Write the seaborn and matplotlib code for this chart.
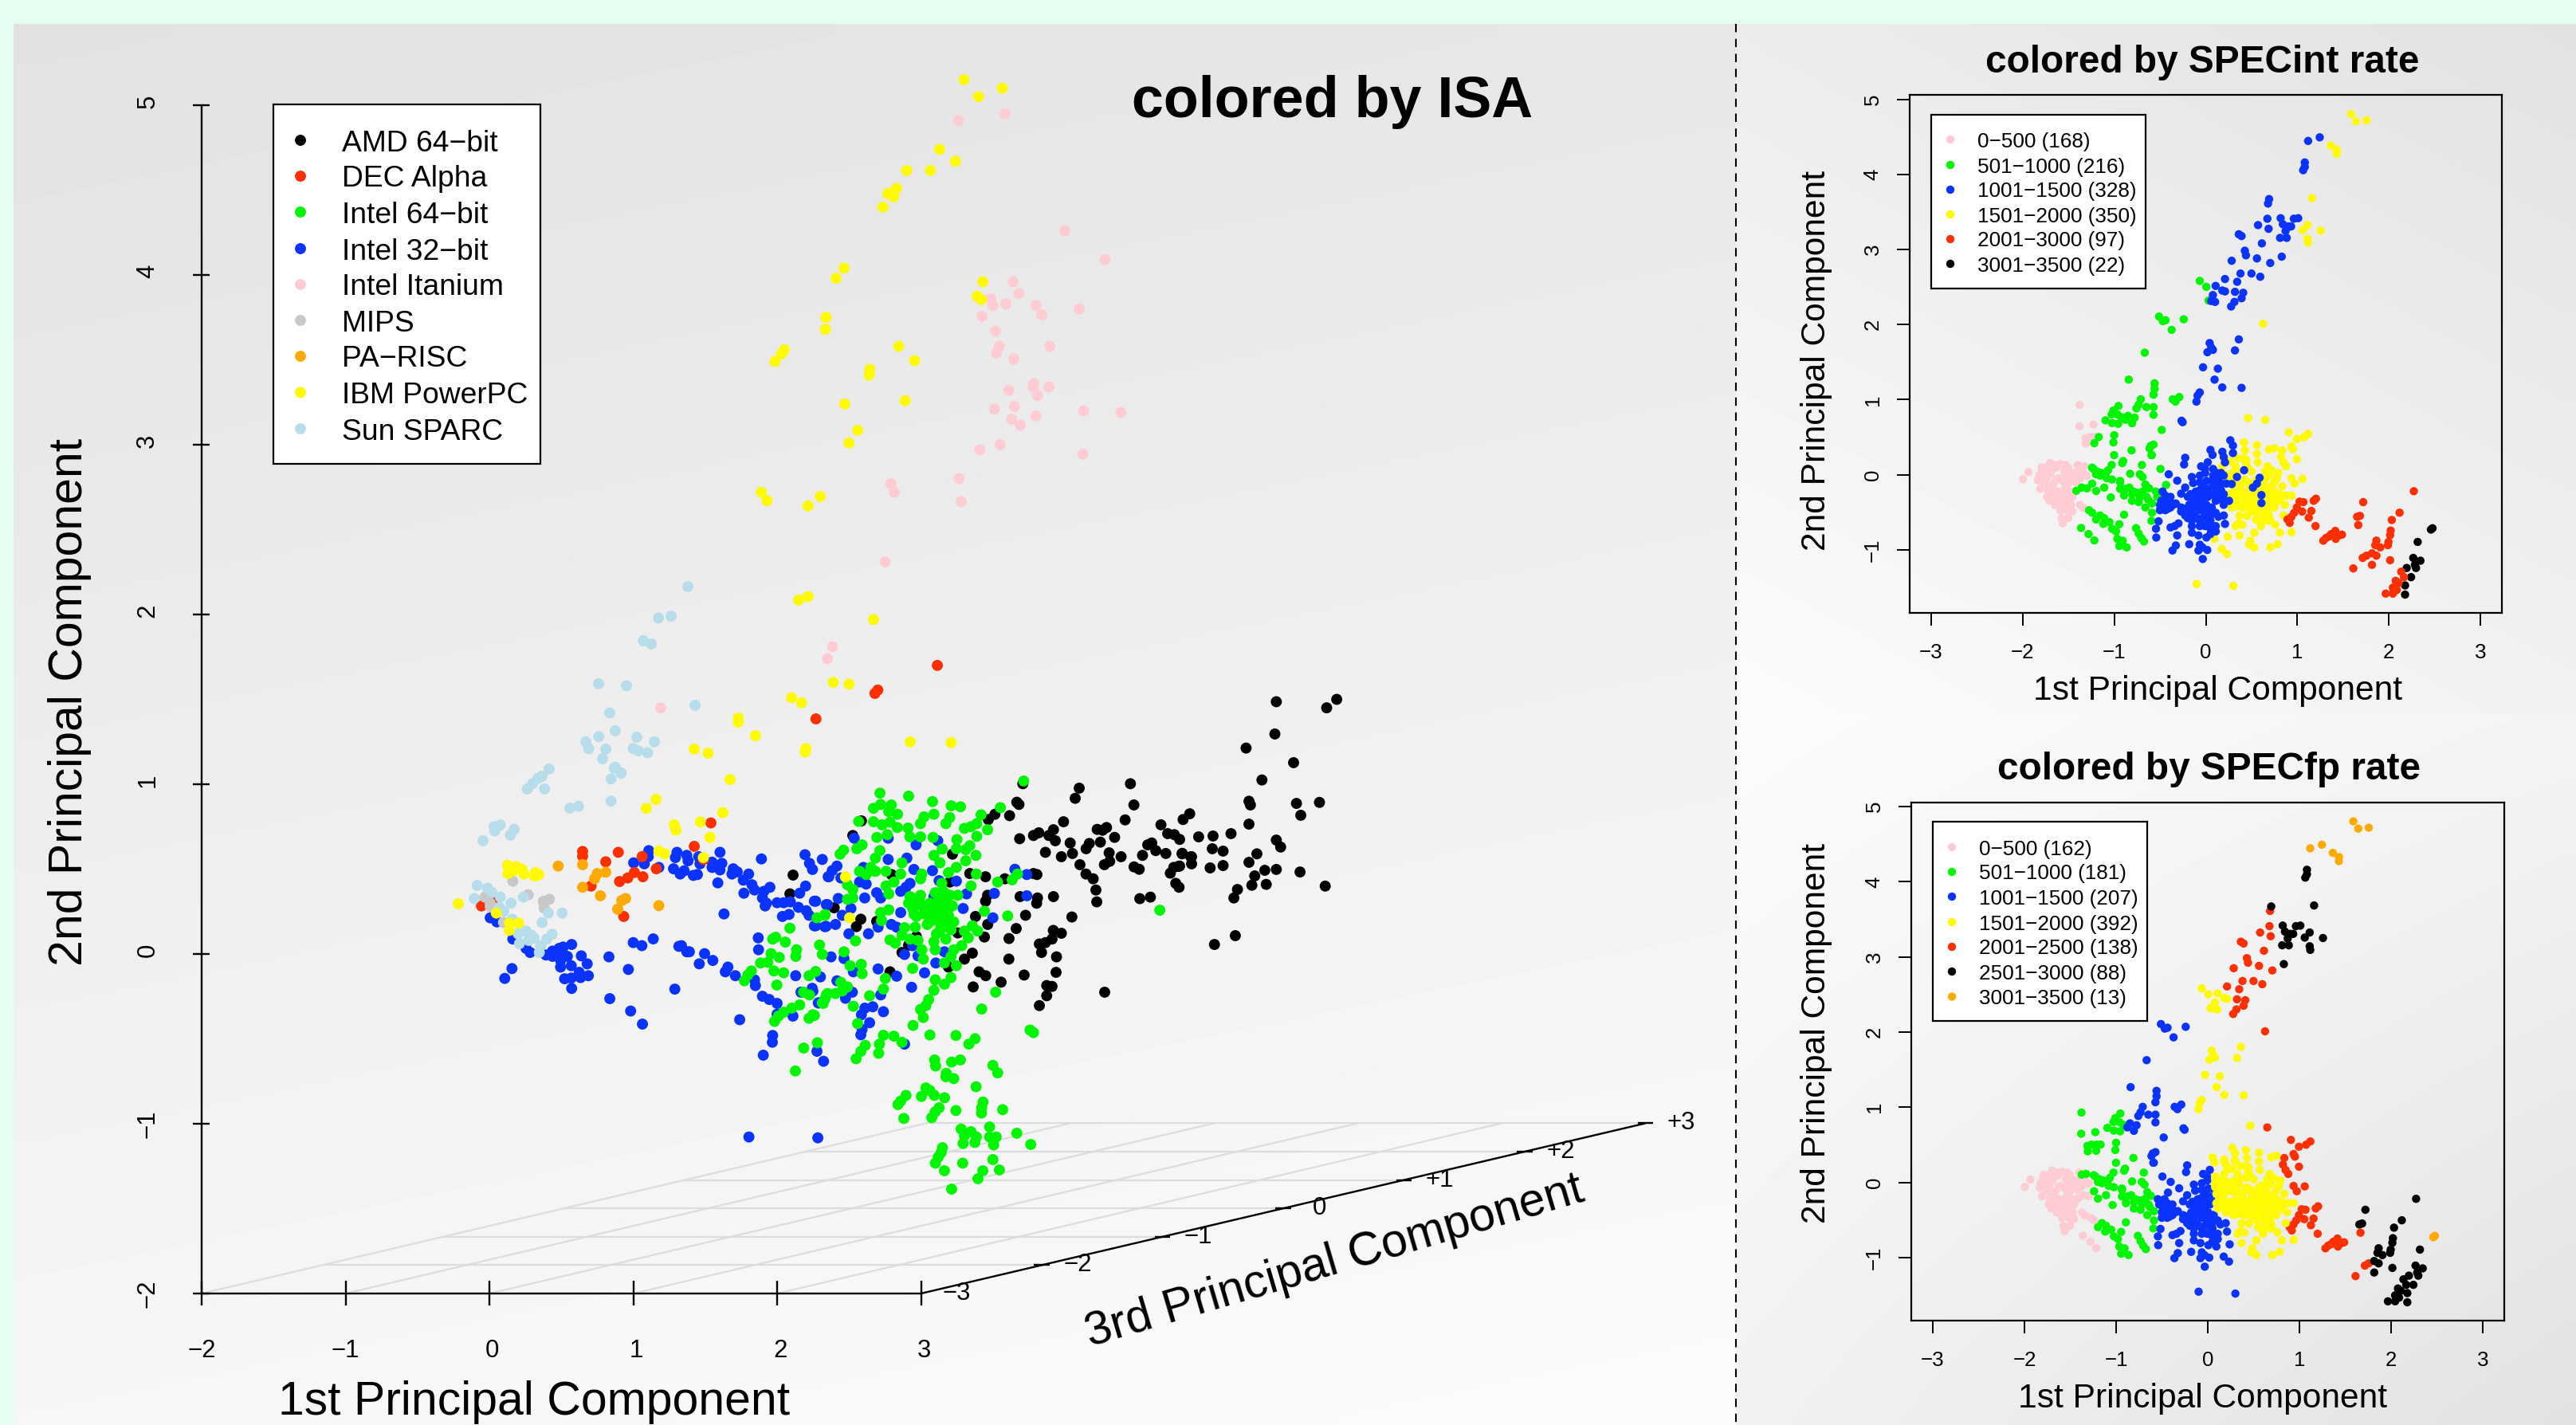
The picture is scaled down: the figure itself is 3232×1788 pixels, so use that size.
import numpy as np
import pandas as pd
import matplotlib
matplotlib.use('Agg')
import matplotlib.pyplot as plt
from matplotlib.patches import Rectangle
import seaborn as sns

# ── 3D panel, projected values ──
amd_64 = [(2.111,.465),(2.089,.354),(3.708,1.003),(4.1,.977),(4.072,.917),(4.456,1.003),(4.48,.878),(3.666,.894),(3.681,.881),(3.616,.815),
    (3.514,.823),(3.468,.792),(3.991,.779),(4.419,.79),(4.868,.826),(4.822,.792),(4.668,.761),(3.686,.679),(3.782,.698),(3.819,.714),
    (3.921,.732),(3.889,.698),(3.934,.667),(4.225,.734),(4.262,.729),(4.29,.745),(4.346,.687),(4.037,.654),(4.17,.651),(4.247,.659),
    (4.148,.62),(3.865,.599),(3.976,.573),(4.053,.592),(4.308,.596),(4.391,.573),(4.54,.581),(4.312,.546),(4.275,.526),(4.105,.526),
    (4.715,.709),(4.761,.703),(4.798,.675),(4.576,.643),(4.604,.654),(4.632,.609),(4.702,.592),(4.816,.593),(4.881,.573),(4.881,.531),
    (4.798,.518),(4.757,.51),(4.733,.476),(4.481,.513),(4.517,.499),(4.771,.416),(4.794,.393),(4.147,.471),(4.197,.443),(4.216,.377),
    (4.222,.307),(4.521,.326),(4.595,.335),(3.806,.468),(3.782,.474),(3.583,.443),(3.449,.455),(3.339,.474),(3.921,.338),(3.689,.338),
    (3.81,.33),(3.804,.299),(3.463,.346),(3.449,.311),(3.727,.228),(4.049,.218),(3.379,.221),(3.464,.174),(3.662,.15),(3.612,.091),
    (3.92,.139),(3.976,.122),(3.911,.088),(3.823,.059),(3.865,.067),(3.838,.009),(3.441,.1),(3.357,.005),(3.302,-.03),(3.611,-.03),
    (3.942,-.017),(3.939,-.108),(3.717,-.124),(3.404,-.105),(3.45,-.128),(3.557,-.166),(3.363,-.194),(3.874,-.186),(3.911,-.191),
    (3.874,-.246),(3.823,-.304),(4.277,-.225),(2.526,.698),(2.586,.784),(3.219,.588),(2.795,.468),(3.201,.424),(2.397,.272),(2.582,.205),
    (2.551,.161),(2.692,.192),(2.968,.103),(3.256,.124),(2.914,.052),(2.868,.009),(2.785,-.105),(3.191,-.077),(5.47,1.486),(5.89,1.5),
    (5.82,1.45),(5.46,1.296),(5.26,1.213),(5.59,1.127),(5.37,1.025),(5.61,.887),(5.77,.893),(5.64,.817),(5.28,.9),(5.29,.878),(5.28,.765),
    (5.155,.709),(5.47,.671),(5.5,.63),(5.335,.59),(5.28,.54),(5.39,.493),(5.47,.498),(5.635,.483),(5.03,.695),(4.93,.69),(5.1,.606),
    (5.025,.62),(4.875,.573),(4.815,.59),(4.79,.516),(5.01,.507),(5.1,.521),(5.81,.4),(5.32,.46),(5.4,.41),(5.3,.405),(5.2,.38),(5.175,.33),
    (5.185,.108),(5.04,.056)]
dec_alpha = [(1.54,.772),(1.424,.634),(.648,.604),(.648,.576),(.896,.599),(.809,.543),(1.062,.574),(1.16,.502),(1.067,.455),(1.008,.48),
    (.962,.448),(.905,.427),(.707,.4),(1.488,.557),(-.055,.283),(.024,.315),(.934,.221),(3.114,1.7),(2.7,1.555),(2.68,1.535),(2.27,1.385)]
intel_64 = [(2.089,.152),(1.99,.099),(1.969,.088),(2.057,.07),(2.135,.025),(2.13,-.014),(1.958,.002),(2.015,-.02),(2.295,.053),(2.314,-.002),
    (1.885,-.053),(1.935,-.049),(1.978,-.1),(2.046,-.111),(1.998,-.183),(1.821,-.1),(1.796,-.124),(1.773,-.158),(2.222,-.128),(2.268,-.103),
    (2.184,-.225),(2.225,-.241),(2.277,.213),(2.332,.228),(2.157,-.3),(2.102,-.319),(2.046,-.343),(2.009,-.366),(1.982,-.397),(2.249,-.358),
    (2.222,-.379),(2.28,-.523),(2.185,-.554),(2.127,-.689),(2.314,-.288),(2.342,-.241),(3.714,1.019),(3.552,.862),(2.715,.948),(2.914,.93),
    (3.08,.898),(2.72,.881),(2.67,.858),(2.794,.878),(2.776,.839),(2.837,.823),(3.21,.873),(3.275,.867),(3.09,.823),(3.021,.808),(2.997,.768),
    (2.567,.781),(2.67,.779),(2.729,.761),(2.785,.776),(2.835,.745),(2.91,.742),(3.2,.804),(3.173,.768),(3.418,.82),(3.388,.768),(3.348,.75),
    (3.302,.74),(3.463,.732),(3.388,.693),(3.25,.674),(2.997,.69),(2.923,.69),(3.084,.687),(2.693,.687),(2.766,.703),(2.591,.643),(2.554,.62),
    (2.462,.612),(2.438,.588),(3.246,.62),(3.339,.638),(3.311,.615),(3.148,.618),(3.09,.581),(3.132,.537),(3.382,.581),(2.715,.609),(2.683,.565),
    (2.868,.537),(3.311,.549),(3.246,.51),(3.191,.479),(2.573,.487),(2.619,.468),(2.652,.51),(2.683,.487),(2.757,.487),(2.859,.471),(3.006,.471),
    (2.997,.443),(3.385,.471),(3.348,.401),(3.671,.471),(3.533,.424),(3.634,.437),(3.145,.416),(2.489,.408),(2.526,.38),(2.526,.33),(2.489,.322),
    (2.812,.424),(2.757,.401),(2.776,.354),(2.924,.338),(2.997,.346),(2.969,.299),(3.099,.361),(3.154,.369),(3.2,.346),(3.256,.346),(2.942,.268),
    (3.016,.275),(3.044,.252),(3.117,.299),(3.173,.315),(3.219,.283),(3.135,.236),(3.191,.228),(3.228,.189),(2.969,.221),(3.09,.221),(2.72,.244),
    (2.776,.26),(2.726,.197),(2.333,.232),(3.357,.166),(3.394,.135),(3.302,.135),(3.441,.252),(3.603,.224),(2.886,.155),(2.96,.158),(3.044,.174),
    (3.135,.174),(3.191,.158),(3.108,.119),(3.173,.088),(2.868,.111),(2.923,.088),(2.979,.08),(2.785,.083),(2.822,.064),(2.545,.077),(3.09,.072),
    (3.099,.025),(3.006,.025),(3.329,.095),(3.283,.049),(3.228,.025),(3.209,-.014),(3.016,-.03),(3.163,-.053),(3.246,-.069),(2.942,-.085),
    (2.465,.013),(2.507,-.069),(2.585,-.061),(2.591,-.116),(2.752,-.144),(2.739,-.207),(2.643,-.246),(2.443,-.167),(2.489,-.194),(2.453,-.218),
    (2.406,-.233),(2.351,-.233),(2.333,-.264),(2.32,-.291),(2.53,-.308),(2.259,-.362),(2.56,-.41),(3.099,-.152),(3.209,-.139),(3.163,-.178),
    (3.09,-.214),(3.053,-.269),(3.034,-.304),(2.997,-.327),(3.016,-.374),(2.945,-.421),(3.519,-.225),(3.422,-.324),(3.062,-.477),(3.243,-.48),
    (3.758,-.448),(3.782,-.463),(2.739,-.479),(2.812,-.484),(2.868,-.52),(3.376,-.499),(3.333,-.531),(2.711,-.531),(2.706,-.585),(2.613,-.538),
    (2.582,-.574),(2.549,-.617),(4.66,.258),(3.095,-.624),(3.102,-.66),(3.213,-.637),(3.274,-.624),(3.5,-.656),(3.533,-.7),(3.176,-.703),
    (3.173,-.723),(3.228,-.734),(3.383,-.782),(3.034,-.789),(3.062,-.804),(3.093,-.833),(3.003,-.839),(3.164,-.847),(2.896,-.833),(2.859,-.867),
    (2.84,-.887),(3.431,-.872),(3.422,-.906),(3.421,-.937),(3.568,-.917),(3.243,-.922),(3.126,-.906),(3.099,-.93),(3.075,-.964),(2.881,-.969),
    (3.477,-1.019),(3.666,-1.056),(3.279,-1.031),(3.348,-1.047),(3.385,-1.078),(3.302,-1.07),(3.477,-1.078),(3.523,-1.078),(3.763,-1.122),
    (3.293,-1.116),(3.375,-1.11),(3.505,-1.125),(3.149,-1.141),(3.14,-1.17),(3.12,-1.197),(3.1,-1.232),(3.29,-1.232),(3.5,-1.211),(3.545,-1.272),
    (3.43,-1.277),(3.396,-1.324),(3.163,-1.277),(3.213,-1.385),(3.062,.299),(3.025,.236),(3.062,.189),(3.173,.205),(3.135,.315),(3.117,.236),(2.988,.315),
    (3.191,.268),(3.154,.205),(3.191,.189),(3.135,.142),(3.209,.142),(3.154,.268),(3.099,.268),(2.951,.236),(2.914,.299),(3.173,.346),(3.117,.346)]
intel_32 = [(1.891,.56),(2.194,.585),(2.314,.557),(2.225,.534),(2.246,.498),(2.355,.455),(2.198,.4),(2.157,.358),(2.259,.311),(2.342,.291),
    (2.0,.302),(2.046,.302),(2.092,.307),(2.148,.275),(2.203,.255),(2.222,.228),(2.083,.233),(2.037,.221),(2.259,.166),(2.332,.161),(1.95,.393),
    (1.908,.369),(1.898,.33),(1.926,.299),(1.917,.283),(1.843,.377),(1.825,.408),(1.769,.358),(1.802,.471),(1.765,.435),(1.695,.502),(1.723,.484),
    (1.686,.471),(1.616,.534),(1.603,.599),(1.548,.541),(1.548,.51),(1.603,.495),(1.588,.419),(1.631,.236),(1.455,.573),(1.464,.531),(1.446,.468),
    (1.418,.463),(1.372,.581),(1.381,.549),(1.354,.49),(1.326,.471),(1.28,.502),(1.293,.568),(1.304,.599),(1.178,.51),(1.104,.573),(1.108,.609),
    (1.077,.531),(1.003,.537),(.006,.213),(.052,.189),(.163,.088),(.255,.033),(.283,.009),(.393,-.006),(.439,.017),(.485,.033),(.513,.041),(.572,.056),
    (.495,.002),(.542,-.014),(.439,-.014),(.639,-.011),(.68,-.058),(.569,-.069),(.495,-.077),(.495,-.038),(.624,-.108),(.688,-.128),(.634,-.139),
    (.569,-.142),(.523,-.146),(.572,-.203),(.157,-.086),(.107,-.144),(.831,-.017),(.966,-.091),(.837,-.263),(.982,-.336),(1.064,-.413),(1.289,-.207),
    (1.0,.067),(1.06,.049),(1.139,.089),(1.317,.045),(1.335,.049),(1.372,.013),(1.39,.013),(1.496,.002),(1.553,-.038),(1.459,-.058),(1.658,-.077),
    (1.64,-.105),(1.71,-.128),(1.843,-.152),(1.849,-.186),(1.898,-.249),(1.945,-.268),(2.0,-.291),(2.0,-.354),(2.11,-.366),(1.74,-.387),(1.869,.095),
    (1.871,.025),(1.969,-.48),(1.967,-.52),(1.904,-.596),(2.129,-.128),(2.244,-.202),(2.166,-.225),(2.286,-.288),(1.804,-1.078),(2.283,-1.083),
    (2.416,.518),(2.383,.491),(2.36,.455),(2.6,.51),(2.443,.448),(2.573,.424),(2.619,.412),(2.772,.557),(2.902,.565),(2.966,.643),(2.772,.682),
    (2.536,.682),(2.951,.498),(3.08,.491),(3.117,.667),(3.246,.429),(3.126,.432),(2.924,.416),(2.896,.393),(2.859,.369),(2.692,.361),(2.72,.33),
    (2.609,.33),(2.425,.327),(2.35,.291),(2.268,.311),(2.453,.228),(2.513,.268),(2.499,.119),(2.635,.119),(2.406,.174),(2.341,.163),(2.268,.166),
    (2.702,.158),(2.794,.174),(2.831,.158),(2.859,.244),(3.09,.338),(3.293,.268),(3.317,.354),(3.51,.357),(3.5,.213),(3.653,.499),(3.736,.468),
    (3.736,.343),(2.942,.049),(2.886,-.003),(2.979,-.011),(3.163,.013),(3.103,-.053),(3.025,-.111),(2.935,-.196),(2.831,-.131),(2.702,-.088),
    (2.53,-.105),(2.375,-.017),(2.465,-.027),(2.301,-.135),(2.416,-.158),(2.523,-.225),(2.475,-.261),(2.249,-.218),(2.29,-.288),(2.72,-.241),
    (2.665,-.311),(2.61,-.319),(2.586,-.358),(2.739,-.34),(2.643,-.405),(2.591,-.444),(2.582,-.476),(2.886,-.531),(2.277,-.573),(2.323,-.632)]
intel_itanium = [(3.26,4.91),(3.585,4.95),(4.0,4.26),(4.28,4.09),(3.64,3.96),(3.68,3.89),(3.485,3.86),(3.5,3.82),(3.59,3.83),(3.8,3.82),(3.84,3.765),
    (4.1,3.8),(3.424,3.756),(3.52,3.67),(3.545,3.58),(3.525,3.54),(3.895,3.58),(3.645,3.505),(3.61,3.32),(3.785,3.36),(3.78,3.34),(3.81,3.29),
    (3.89,3.34),(3.65,3.225),(3.51,3.21),(3.63,3.15),(3.69,3.115),(3.8,3.17),(4.13,3.2),(4.39,3.19),(3.41,2.97),(3.55,3.0),(4.125,2.945),(3.265,2.8),
    (2.79,2.77),(2.815,2.72),(3.28,2.665),(2.75,2.31),(2.385,1.81),(2.35,1.74),(1.19,1.45)]
mips = [(.163,.429),(.27,.349),(-.031,.335),(.006,.299),(.006,.279),(.375,.31),(.417,.322),(.38,.271),(.098,.186)]
pa_risc = [(.478,.518),(.648,.526),(.809,.482),(.75,.474),(.731,.443),(.648,.393),(.772,.343),(.947,.327),(.92,.315),(.892,.264),(1.178,.285)]
ibm_power = [(3.3,5.15),(3.4,5.05),(3.565,5.1),(3.13,4.74),(3.24,4.67),(2.9,4.615),(3.066,4.615),(2.83,4.51),(2.77,4.48),(2.81,4.46),(2.735,4.4),
    (2.465,4.04),(2.41,3.98),(3.43,3.96),(3.39,3.875),(3.42,3.855),(2.34,3.75),(2.335,3.68),(2.845,3.58),(2.955,3.495),(2.645,3.445),(2.64,3.41),
    (2.47,3.24),(2.89,3.26),(2.56,3.085),(2.5,3.01),(2.3,2.695),(2.215,2.64),(2.215,2.105),(2.15,2.085),(2.67,1.97),(2.39,1.6),(2.5,1.59),(2.17,1.48),
    (2.925,1.25),(3.21,1.245),(2.2,1.21),(2.195,1.19),(2.03,3.535),(2.05,3.56),(1.985,3.49),(1.89,2.72),(1.93,2.67),(2.1,1.51),(1.73,1.39),(1.73,1.366),
    (1.85,1.286),(1.424,1.207),(1.52,1.183),(1.673,1.028),(1.158,.911),(1.091,.858),(1.623,.833),(1.285,.761),(1.297,.729),(1.466,.778),(1.533,.687),
    (1.178,.607),(1.219,.59),(1.487,.568),(.126,.523),(.188,.515),(.227,.499),(.129,.474),(.24,.471),(.32,.479),(.344,.468),(.314,.459),(.162,.487),
    (-.216,.296),(.139,.182),(.203,.182),(.139,.139),(.048,.241),(2.475,.454),(2.504,.213)]
sun_sparc = [(.415,1.09),(.366,1.047),(.338,1.034),(.3,1.003),(.264,.972),(.384,.972),(.868,1.094),(.916,1.066),(.846,1.031),(.846,.901),(.56,.859),
    (.62,.87),(.076,.76),(.033,.75),(.037,.725),(.172,.734),(.146,.7),(-.044,.667),(-.085,.404),(-.013,.388),(.018,.362),(.076,.335),(-.105,.327),
    (.236,.335),(.151,.3),(.07,.275),(.1,.252),(.41,.241),(.506,.241),(.366,.185),(.159,.205),(.436,.116),(.399,.088),(.255,.135),(.2,.119),(.29,.111),
    (.31,.095),(.209,.061),(.273,.08),(.356,.049),(.347,.009),(1.38,2.164),(1.175,1.979),(1.263,1.99),(1.07,1.845),(1.125,1.826),(.759,1.592),
    (.953,1.58),(.836,1.42),(1.43,1.465),(.875,1.315),(.76,1.28),(.67,1.25),(.69,1.21),(.81,1.207),(.787,1.15),(1.025,1.277),(1.147,1.25),(1.0,1.21),
    (1.036,1.197),(1.1,1.186),(.875,1.1),(.915,1.066)]

isa_names = ['AMD 64−bit', 'DEC Alpha', 'Intel 64−bit', 'Intel 32−bit', 'Intel Itanium', 'MIPS', 'PA−RISC', 'IBM PowerPC', 'Sun SPARC']

# ── 2D panels: same points, first class is the SPECint bin, second the SPECfp bin ──
pink_pink = [(-1.996,-.061),(-1.936,.037),(-1.822,-.012),(-1.792,.097),(-1.7,.158),(-1.762,-.104),(-1.714,-.183),(-1.834,-.073),(-1.691,.148),(-1.59,.141),
    (-1.503,.095),(-1.474,.024),(-1.445,-.064),(-1.401,.13),(-1.343,.024),(-1.299,-.011),(-1.372,-.047),(-1.416,-.1),(-1.43,-.224),(-1.488,-.224),
    (-1.459,-.295),(-1.517,-.295),(-1.59,-.259),(-1.662,-.259),(-1.735,-.295),(-1.763,-.047),(-1.793,.059),(-1.749,.095),(-1.706,.059),(-1.633,.095),
    (-1.546,.042),(-1.778,-.082),(-1.808,-.188),(-1.706,-.348),(-1.648,-.401),(-1.59,-.472),(-1.517,-.472),(-1.459,-.49),(-1.503,-.578),(-1.575,-.578),
    (-1.561,-.648),(-1.633,-.348),(-1.546,-.366),(-1.488,-.33),(-1.677,-.188),(-1.619,-.224),(-1.561,-.224),(-1.503,-.118),(-1.459,-.011),(-1.648,.13),
    (-1.532,.13),(-1.735,-.047),(-1.691,-.153),(-1.372,-.401),(-1.34,-.44),(-1.604,-.047),(-1.561,-.082),(-1.532,-.153),(-1.633,-.064),(-1.662,-.118),
    (-1.72,-.224),(-1.604,-.33),(-1.561,-.295),(-1.546,-.436),(-1.604,-.401),(-1.662,-.33),(-1.474,-.401),(-1.503,-.401),(-1.43,.024),(-1.401,.024),
    (-1.517,-.011),(-1.691,.024),(-1.749,.024)]
pink_green = [(-1.378,.929),(-1.381,.647),(-1.227,.668),(-1.314,.484),(-1.27,.502),(-1.212,.502),(-1.309,.413),(-1.375,.103),(-1.328,.113)]
green_pink = [(-1.363,-.709),(-1.281,-.79),(-1.218,-.875),(-1.276,-.472),(-1.241,-.507),(-1.357,-.171),(-1.299,-.181),(-1.415,-.214)]
green_green = [(-1.169,.502),(-1.218,.42),(-.954,.916),(-1.009,.856),(-1.029,.803),(-.965,.803),(-1.096,.725),(-1.024,.689),(-.957,.679),(-.922,.767),
    (-1.0,.527),(-1.009,.431),(-1.001,.261),(-.811,.325),(-.902,.183),(-.913,.155),(-1.029,.13),(-.698,.13),(-.826,.013),(-.72,.006),(-.69,-.03),
    (-1.227,.077),(-1.184,.042),(-1.14,.024),(-1.097,.007),(-1.068,.06),(-1.025,-.064),(-1.082,-.046),(-1.155,-.011),(-1.198,.006),(-1.243,.095),
    (-.936,-.1),(-.936,-.188),(-.878,-.188),(-.835,-.171),(-.893,-.277),(-.806,-.259),(-.806,-.348),(-.747,-.241),(-.718,-.294),(-.646,-.294),(-.733,-.365),
    (-.66,-.436),(-.587,-.383),(-.631,-.33),(-.587,-.507),(-.594,-.613),(-.689,-.223),(-.791,-.223),(-.936,-.082),(-1.241,-.118),(-1.198,-.217),(-1.11,-.171),
    (-1.038,-.302),(-1.198,-.596),(-1.155,-.542),(-1.11,-.578),(-1.119,-.655),(-1.053,-.631),(-1.024,-.719),(-.98,-.755),(-.945,-.659),(-.893,-.532),
    (-.966,-.854),(-.908,-.879),(-.945,-.95),(-.864,-.968),(-.762,-.712),(-.733,-.783),(-.704,-.844),(-.675,-.889),(-.66,-.13),(-.62,-.18)]
green_blue = [(-.511,2.107),(-.469,2.046),(-.439,2.058),(-.241,2.07),(-.373,1.93),(-.667,1.626),(-.842,1.267),(-.559,1.218),(-.559,1.145),(-.571,1.066),
    (-.361,1.005),(-.289,1.035),(-.331,.974),(-.71,1.005),(-.734,.932),(-.758,.883),(-.649,.901),(-.571,.901),(-.571,.798),(-.481,.597),(-.601,.384),
    (-.571,.402),(-.589,.262),(-.849,.785),(-.878,.732),(-.806,.686),(-.777,.76),(-.495,.077),(-.434,-.136),(-.545,-.224),(-.53,-.295),(-.614,.35),(-.594,.261)]
green_yellow = [(-.066,2.582),(.006,2.503),(.03,2.32)]
blue_blue = [(-.265,.719),(-.253,.7),(-.405,.006),(-.312,-.079),(-.225,.226),(-.237,.137),(-.152,-.03),(-.138,-.11),(-.225,-.171),(-.269,-.252),(-.167,-.259),
    (-.138,-.295),(-.109,-.224),(-.065,-.011),(-.051,.112),(-.008,.077),(.022,.166),(-.472,-.224),(-.443,-.277),(-.385,-.295),(-.486,-.348),(-.414,-.383),
    (-.356,-.401),(-.327,-.383),(-.501,-.472),(-.443,-.472),(-.385,-.436),(-.516,-.62),(-.544,-.719),(-.541,-.836),(-.24,-.454),(-.269,-.49),(-.225,-.543),
    (-.167,-.49),(-.123,-.436),(-.065,-.472),(-.094,-.578),(-.152,-.613),(-.196,-.578),(-.298,-.648),(-.341,-.684),(-.385,-.702),(-.312,-.808),(-.152,-.684),
    (-.152,-.772),(-.08,-.808),(-.065,-.684),(-.327,-.942),(-.364,-1.009),(-.181,-.925),(-.065,-.932),(-.08,-1.009),(-.036,-.968),(.016,-1.002),(-.033,-1.122),
    (.007,-.836),(.051,-.79),(.109,-.755),(.022,-.436),(.065,-.436),(.007,-.578),(-.036,-.33),(.007,-.401),(-.065,-.206),(-.036,-.153),(.007,-.082),
    (.08,-.118),(.109,-.224),(.051,-.259),(.022,-.295),(.196,-.543),(.138,-.56),(.21,-.655),(.051,-.667),(-.007,.024),(-.065,-.1),(.022,-.188),(-.022,-.224),
    (-.007,-.401),(-.065,-.401),(.051,-.472),(.109,-.507),(-.007,-.507),(.051,-.543),(-.036,-.578),(.051,-.613),(-.007,-.684),(.051,-.719),(.109,-.684),
    (-.065,-.613),(-.123,-.543),(-.21,-.472),(-.181,-.401),(-.269,-.436),(-.152,-.383),(-.094,-.365),(-.196,-.295),(-.065,-.295),(-.428,-.33),(-.385,-.366),
    (-.457,-.401),(-.501,-.401),(-.414,-.454)]
blue_yellow = [(.108,2.515),(.18,2.454),(.21,2.442),(.078,2.393),(.102,2.302),(.06,2.314),(.361,1.803),(.042,1.754),(.06,1.693),(.018,1.632),(.078,1.663),
    (.319,1.656),(-.03,1.431),(.132,1.413),(.096,1.267),(.18,1.163),(.391,1.157),(-.066,1.096),(-.09,1.054),(-.102,.974),(.167,.024),(.138,-.1),(.196,-.011),
    (.152,-.295),(.196,-.401),(.109,-.348),(.167,-.206),(.225,-.118),(.08,-.011),(.268,.459),(.297,.388),(.181,.306),(.196,.236),(.21,.165),(.297,.289),
    (.051,.331),(.074,.264),(.341,-.029),(.419,.06),(.283,-.124),(.588,-.04),(.559,-.118),(.515,-.171),(.608,-.271),(.608,-.377),(.254,-.348),
    (.08,.077),(.123,.024),(.08,-.064),(.138,-.047),(.094,-.153),(.167,-.118),(.123,-.224),(.196,-.259),(.138,-.33),(.196,-.33),(.094,-.277)]
blue_red = [(.68,3.612),(.673,3.41),(.686,3.276),(.571,3.325),(.361,3.203),(.391,3.179),(.613,3.082),(.427,2.984),(.439,2.923),(.559,2.881),(.283,2.85),
    (.704,2.82),(.379,2.68),(.499,2.68),(.595,2.637),(.21,2.607),(.343,2.57),(.409,2.424),(.391,2.351),(.319,2.436),(.313,2.302),(.277,2.241)]
blue_black = [(1.082,4.16),(1.082,4.1),(1.064,4.056),(.692,3.672),(.818,3.417),(1.01,3.417),(.962,3.41),(.842,3.337),(.902,3.307),(.872,3.246),(.932,3.307),
    (.812,3.155),(.884,3.155),(.83,2.905)]
blue_orange = [(1.245,4.494),(1.118,4.446)]
yellow_yellow = [(.463,.755),(.416,.43),(.559,.395),(.428,.325),(.443,.2),(.559,.279),(.568,.165),(.691,.335),(.749,.353),(.355,.218),(.457,.095),(.501,.042),
    (.428,-.064),(.675,.112),(.719,.06),(.792,.024),(.777,-.047),(.646,.042),(.617,-.118),(.691,-.011),(.749,-.1),(.835,-.153),(.807,-.259),(.879,-.277),
    (.937,-.277),(.807,-.33),(.749,-.33),(.72,-.401),(.865,-.401),(.749,-.436),(.662,-.401),(.691,-.543),(.617,-.613),(.691,-.613),(.603,-.684),(.758,-.666),
    (.81,-.772),(.937,-.765),(.85,-.543),(.283,.02),(.341,.05),(.4,-.229),(.457,-.259),(.515,-.294),(.355,-.229),(.312,-.294),(.428,-.33),(.544,-.33),(.283,-.436),
    (.37,-.543),(.355,-.648),(.4,-.666),(.327,-.684),(.37,-.807),(.53,-.772),(.486,-.878),(.472,-.93),(.53,-.968),(.704,-.968),(.785,-.925),(.646,-.065),
    (.661,-.171),(.719,-.153),(.691,-.259),(.749,-.224),(.632,-.259),(.603,-.401),(.515,-.401),(.457,-.436),(.4,-.436),(.544,-.507),(.486,-.489),(.617,-.507),
    (.254,-.259),(.312,-.118),(.355,-.4),(.48,-.15),(.58,-.2),(.45,-.55),(.55,-.6),(.62,-.3),(.382,-.138),(.469,-.103),(.556,-.067),(.614,-.138),(.672,-.173),
    (.73,-.209),(.44,-.244),(.527,-.244),(.614,-.28),(.701,-.315),(.788,-.35),(.353,-.315),(.44,-.35),(.527,-.386),(.614,-.386),(.701,-.421),(.324,-.421),(.411,-.421),
    (.498,-.474),(.585,-.456),(.672,-.492),(.266,-.35),(.295,-.244),(.295,-.138),(.643,-.563),(.701,-.598),(.614,-.633),(.208,.004),(.266,-.067),(.178,.11),(.266,.18),
    (.324,.11),(.178,.287),(.295,.287),(.411,.216),(.44,.145)]
yellow_blue = [(-.1,-1.455),(.301,-1.48),(.094,-.854),(.174,-.988),(.232,-1.055),(.239,-.825)]
yellow_red = [(.625,2.01),(.649,.731),(.907,.565),(.995,.474),(1.073,.501),(1.119,.544),(.936,.377),(.951,.342),(.835,.324),(.82,.236),(.849,.165),(.878,.112),
    (.995,.208),(1.058,-.054),(.936,-.047),(.971,-.118)]
yellow_black = [(1.16,3.685),(1.058,3.258),(1.112,3.325),(1.257,3.252),(1.112,3.142),(1.118,3.094)]
yellow_orange = [(1.588,4.805),(1.642,4.708),(1.756,4.72),(1.365,4.385),(1.431,4.33),(1.431,4.275)]
red_red = [(1.024,-.358),(1.067,-.365),(.995,-.436),(1.053,-.49),(.965,-.507),(.936,-.56),(.893,-.595),(.917,-.641),(1.154,-.482),(1.125,-.571),(1.199,-.684),
    (1.204,-.319),(1.178,-.347),(1.284,-.878),(1.313,-.843),(1.342,-.825),(1.371,-.79),(1.415,-.748),(1.459,-.808),(1.488,-.798),(1.42,-.854),(1.612,-1.248),
    (1.756,-1.078),(1.714,-1.108),(1.666,-.67)]
red_black = [(2.273,-.219),(1.72,-.365),(2.117,-.505),(2.032,-.603),(1.654,-.56),(1.684,-.548),(2.02,-.743),(2.014,-.804),(1.996,-.895),(1.99,-.938),(1.864,-.877),
    (1.852,-.938),(1.906,-.968),(1.816,-1.047),(1.816,-1.2),(1.864,-1.078),(2.014,-1.139),(2.135,-1.291),(2.165,-1.364),(2.075,-1.413),(2.044,-1.504),(2.105,-1.443),
    (1.966,-1.583),(2.044,-1.583),(2.087,-1.535)]
black_black = [(2.315,-.895),(2.267,-1.108),(2.345,-1.145),(2.297,-1.242),(2.195,-1.242),(2.243,-1.364),(2.177,-1.474),(2.177,-1.596),(2.285,-1.2)]
black_orange = [(2.477,-.713),(2.46,-.73)]

int_bins = ['0−500 (168)', '501−1000 (216)', '1001−1500 (328)', '1501−2000 (350)', '2001−3000 (97)', '3001−3500 (22)']
fp_bins = ['0−500 (162)', '501−1000 (181)', '1001−1500 (207)', '1501−2000 (392)', '2001−2500 (138)', '2501−3000 (88)', '3001−3500 (13)']

PINK, GREEN, BLUE, YELLOW, RED, BLACK, ORANGE = '#FFCCD4', '#00F500', '#0A33FF', '#FFFA00', '#FF3000', '#000000', '#FFAA00'
GRAY, LIGHTBLUE = '#C8C8C8', '#B8DDEA'

W, H = 3232, 1788
sns.set_theme(style='ticks')
plt.rcParams['font.family'] = ['Liberation Sans', 'DejaVu Sans']
plt.rcParams['text.color'] = 'black'
fig = plt.figure(figsize=(W / 200, H / 200), dpi=200, facecolor='#E6FDF2')


def px_axes(z):
    a = fig.add_axes([0, 0, 1, 1], zorder=z)
    a.set_xlim(0, W)
    a.set_ylim(H, 0)
    a.axis('off')
    a.patch.set_alpha(0)
    return a


def box_axes(left, right, top, bottom):
    return fig.add_axes([left / W, 1 - bottom / H, (right - left) / W, (bottom - top) / H], zorder=2)


def shade(a, x0, x1, y0, y1, c00, c10, c01, c11):
    # bilinear grey backdrop
    u, v = np.meshgrid(np.linspace(0, 1, 64), np.linspace(0, 1, 64))
    img = (1 - v) * ((1 - u) * c00 + u * c10) + v * ((1 - u) * c01 + u * c11)
    a.imshow(img, extent=(x0, x1, y1, y0), cmap='gray', vmin=0, vmax=1, aspect='auto', interpolation='bilinear')


bg = px_axes(0)
shade(bg, 17, 2178, 30, H, .885, .905, .965, .985)
shade(bg, 2178, W, 30, 895, .925, .885, .985, .945)
shade(bg, 2178, W, 895, H, .985, .955, .945, .885)
bg.set_xlim(0, W)
bg.set_ylim(H, 0)
bg.plot([2178, 2178], [30, H], color='black', lw=0.75, dashes=(5, 4))


def points_frame(groups):
    frames = [pd.DataFrame(pts, columns=['pc1', 'pc2']).assign(cls=name) for name, pts in groups]
    return pd.concat(frames, ignore_index=True)


# ── main panel ──
ax = px_axes(1)
dx3, dy3 = 151.5 / 180.5, 35.6 / 213

for k in range(7):
    ax.plot([-2 + k * dx3, 3 + k * dx3], [-2 + k * dy3] * 2, color='#DCDCDC', lw=0.8, zorder=1)
for c in range(-2, 4):
    ax.plot([c, c + 6 * dx3], [-2, -2 + 6 * dy3], color='#DCDCDC', lw=0.8, zorder=1)

main_groups = [('Intel Itanium', intel_itanium), ('AMD 64−bit', amd_64), ('Intel 32−bit', intel_32), ('Intel 64−bit', intel_64),
               ('DEC Alpha', dec_alpha), ('PA−RISC', pa_risc), ('MIPS', mips), ('Sun SPARC', sun_sparc), ('IBM PowerPC', ibm_power)]
isa_colors = dict(zip(isa_names, [BLACK, RED, GREEN, BLUE, PINK, GRAY, ORANGE, YELLOW, LIGHTBLUE]))
sns.scatterplot(data=points_frame(main_groups), x='pc1', y='pc2', hue='cls', palette=isa_colors,
                s=25, linewidth=0, legend=False, ax=ax, zorder=3)
ax.set_xlim((0 - 614) / 180.5, (W - 614) / 180.5)
ax.set_ylim((1197 - H) / 213, 1197 / 213)

ink = dict(color='black', lw=0.85, zorder=4, solid_capstyle='butt')
ax.plot([-2, -2], [-2, 5], **ink)
ax.plot([-2, 3], [-2, -2], **ink)
ax.plot([3, 3 + 6 * dx3], [-2, -2 + 6 * dy3], **ink)
for v in range(-2, 6):
    ax.plot([-2.06, -1.945], [v, v], **ink)
    ax.text(-2.375, v + (.02 if v >= 0 else 0), str(v).replace('-', '−'), rotation=90, ha='center', va='center', fontsize=11.2)
for v in range(-2, 4):
    ax.plot([v, v], [-2.07, -1.925], **ink)
    ax.text(v + (.02 if v >= 0 else 0), -2.34, str(v).replace('-', '−'), ha='center', va='center', fontsize=11.2)
for k, lab in enumerate(['−3', '−2', '−1', '0', '+1', '+2', '+3']):
    tx, ty = 3 + k * dx3, -2 + k * dy3
    if k > 0:
        ax.plot([tx - .055, tx + .055], [ty, ty], **ink)
    ax.text(tx + .25, ty, lab, ha='center', va='center', fontsize=11.2)


# ── side panels ──
pairs = [(pink_pink, 0, 0), (pink_green, 0, 1), (green_pink, 1, 0), (green_green, 1, 1), (green_blue, 1, 2), (green_yellow, 1, 3),
         (blue_blue, 2, 2), (blue_yellow, 2, 3), (blue_red, 2, 4), (blue_black, 2, 5), (blue_orange, 2, 6),
         (yellow_yellow, 3, 3), (yellow_blue, 3, 2), (yellow_red, 3, 4), (yellow_black, 3, 5), (yellow_orange, 3, 6),
         (red_red, 4, 4), (red_black, 4, 5), (black_black, 5, 5), (black_orange, 5, 6)]
side = pd.concat([pd.DataFrame(p, columns=['pc1', 'pc2']).assign(si=i, sf=f) for p, i, f in pairs], ignore_index=True)
side['int_bin'] = [int_bins[i] for i in side['si']]
side['fp_bin'] = [fp_bins[i] for i in side['sf']]
int_colors = [PINK, GREEN, BLUE, YELLOW, RED, BLACK]
fp_colors = [PINK, GREEN, BLUE, YELLOW, RED, BLACK, ORANGE]


def side_panel(box, col, bins, colors, draw_order):
    a = box_axes(*box)
    a.patch.set_alpha(0)
    rank = {b: n for n, b in enumerate(draw_order)}
    d = side.assign(rank=side[col].map(rank)).sort_values('rank', kind='stable')
    sns.scatterplot(data=d, x='pc1', y='pc2', hue=col, palette=dict(zip(bins, colors)),
                    s=14, linewidth=0, legend=False, ax=a)
    a.set_xlim(-3.235, 3.235)
    a.set_ylim(-1.84, 5.06)
    a.set_xlabel('')
    a.set_ylabel('')
    a.set_xticks(range(-3, 4), [str(v).replace('-', '−') for v in range(-3, 4)])
    a.set_yticks(range(-1, 6), [str(v).replace('-', '−') for v in range(-1, 6)])
    a.tick_params(axis='x', length=5.8, width=0.7, pad=8, labelsize=9.3, color='black', labelcolor='black')
    a.tick_params(axis='y', length=5.8, width=0.7, pad=6.5, labelsize=9.3, color='black', labelcolor='black')
    for t in a.get_yticklabels():
        t.set_rotation(90)
        t.set_va('center')
    for s in a.spines.values():
        s.set_linewidth(0.8)
        s.set_color('black')
    return a


side_panel((2396, 3139, 119, 769), 'int_bin', int_bins, int_colors,
           [int_bins[i] for i in (0, 1, 3, 2, 5, 4)])
side_panel((2398, 3142, 1006.5, 1657), 'fp_bin', fp_bins, fp_colors,
           [fp_bins[i] for i in (0, 1, 2, 4, 5, 6, 3)])

# ── legends, titles, axis labels in picture pixels ──
top = px_axes(5)


def legend_box(x0, x1, y0, y1, mx, tx, ys, names, colors, size, msize, nudge):
    top.add_patch(Rectangle((x0, y0), x1 - x0, y1 - y0, fc='white', ec='black', lw=0.8))
    top.scatter([mx] * len(ys), ys, c=colors, s=msize, linewidths=0)
    for y, name in zip(ys, names):
        top.text(tx, y + nudge, name, ha='left', va='center', fontsize=size)


legend_box(343, 678, 131, 582, 377, 429, [176, 221, 266, 312, 357, 402, 447, 492.5, 538], isa_names,
           [isa_colors[n] for n in isa_names], 13.4, 25, 4)
legend_box(2423, 2692, 143.5, 362, 2447, 2481, [175, 207, 238, 269, 300, 331], int_bins, int_colors, 9.4, 14, 2.5)
legend_box(2425, 2694, 1031, 1280.5, 2449, 2483, [1063, 1094, 1125, 1157, 1188, 1219, 1250.5], fp_bins, fp_colors, 9.4, 14, 2.5)

top.text(1672, 147, 'colored by ISA', ha='center', va='baseline', fontsize=25.9, fontweight='bold')
top.text(2763, 91, 'colored by SPECint rate', ha='center', va='baseline', fontsize=17.2, fontweight='bold')
top.text(2771, 978, 'colored by SPECfp rate', ha='center', va='baseline', fontsize=17.2, fontweight='bold')

top.text(670, 1775, '1st Principal Component', ha='center', va='baseline', fontsize=21.2)
top.text(88, 881, '2nd Principal Component', ha='center', va='center', rotation=90, fontsize=21.2)
top.text(1674, 1583, '3rd Principal Component', ha='center', va='center', rotation=16.4, fontsize=21.2)

top.text(2783, 878, '1st Principal Component', ha='center', va='baseline', fontsize=15.3)
top.text(2764, 1766, '1st Principal Component', ha='center', va='baseline', fontsize=15.3)
top.text(2279, 452, '2nd Principal Component', ha='center', va='center', rotation=90, fontsize=15.3)
top.text(2279, 1296, '2nd Principal Component', ha='center', va='center', rotation=90, fontsize=15.3)

fig.savefig('out.png', dpi=200, facecolor=fig.get_facecolor())
